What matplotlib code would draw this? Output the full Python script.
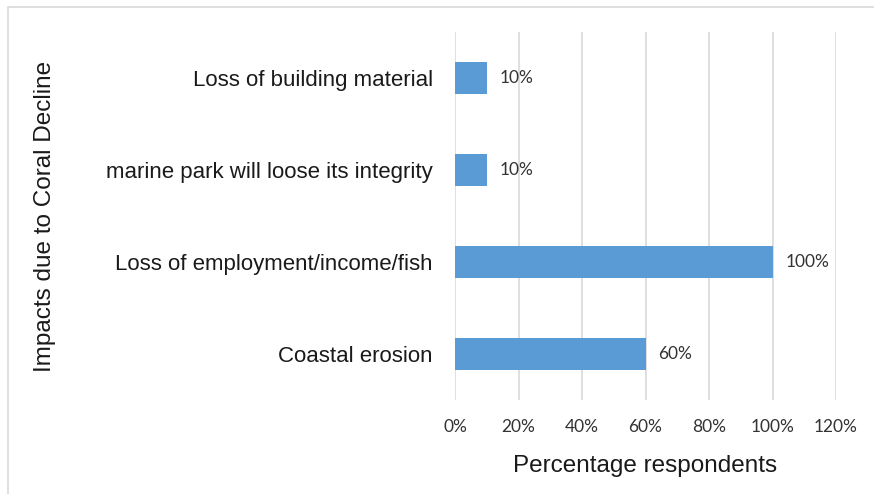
import matplotlib
matplotlib.use("Agg")
import matplotlib.pyplot as plt
from matplotlib.patches import Rectangle
from matplotlib.ticker import FuncFormatter

categories = [
    "Coastal erosion",
    "Loss of employment/income/fish",
    "marine park will loose its integrity",
    "Loss of building material",
]
values = [60, 100, 10, 10]
x_ticks = [0, 20, 40, 60, 80, 100, 120]

W, H = 874, 494
fig = plt.figure(figsize=(W / 100, H / 100), dpi=100)
fig.patch.set_facecolor("white")

# light outer frame of the chart area
fig.patches.append(Rectangle((8 / W, -0.05), 1.2, 1 - 7 / H + 0.05,
                             transform=fig.transFigure, fill=False,
                             edgecolor="#d9d9d9", linewidth=1.2, zorder=0))

ax = fig.add_axes([455 / W, 1 - 400 / H, (836 - 455) / W, (400 - 32) / H])

y = list(range(len(categories)))
bars = ax.barh(y, values, height=0.34, color="#5b9bd5", zorder=3)

ax.set_xlim(0, 120)
ax.set_ylim(-0.5, len(categories) - 0.5)
ax.set_xticks(x_ticks)
ax.xaxis.set_major_formatter(FuncFormatter(lambda v, p: f"{v:.0f}%"))
ax.set_yticks(y)
ax.set_yticklabels(categories, fontsize=16, family="Liberation Sans", color="#1a1a1a")
ax.tick_params(axis="y", length=0, pad=16)
ax.tick_params(axis="x", length=0, pad=14, labelsize=12.5, labelcolor="#333333")
for lbl in ax.get_xticklabels():
    lbl.set_family("Lato")

ax.grid(axis="x", color="#d9d9d9", linewidth=1.2, zorder=0)
for s in ax.spines.values():
    s.set_visible(False)

for yi, v in zip(y, values):
    ax.text(v + 4, yi, f"{v}%", va="center", ha="left", fontsize=12.5,
            family="Lato", color="#333333")

ax.set_xlabel("Percentage respondents", fontsize=17.5, family="Liberation Sans",
              color="#1a1a1a", labelpad=14)
fig.text(45 / W, 1 - 216 / H, "Impacts due to Coral Decline", rotation=90,
         ha="center", va="center", fontsize=17.5, family="Liberation Sans",
         color="#1a1a1a")

fig.savefig("out.png", dpi=100)
